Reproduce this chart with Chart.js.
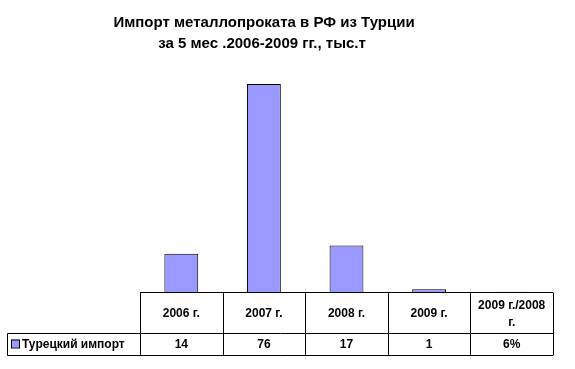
<!DOCTYPE html>
<html>
<head>
<meta charset="utf-8">
<script src="https://cdn.jsdelivr.net/npm/chart.js@4.4.0/dist/chart.umd.min.js"></script>
<style>
  html, body { margin: 0; padding: 0; background: #fff; }
  #wrap { width: 575px; height: 369px; }
</style>
</head>
<body>
<div id="wrap"><canvas id="importChart" width="575" height="369"></canvas></div>
<script>
const titleLines = ['Импорт металлопроката в РФ из Турции', 'за 5 мес .2006-2009 гг., тыс.т'];
const categories = ['2006 г.', '2007 г.', '2008 г.', '2009 г.', ['2009 г./2008', 'г.']];
const seriesName = 'Турецкий импорт';
const importValues = [14, 76, 17, 1, 0.06];
const tableLabels = ['14', '76', '17', '1', '6%'];

const barFill = '#9999FF';
const font = '"Liberation Sans", Arial, sans-serif';

// draws the title and the data table under the bars
const tablePlugin = {
    id: 'dataTable',
    afterDraw(chart) {
        const ctx = chart.ctx;
        const area = chart.chartArea;
        const x = chart.scales.x;
        const n = categories.length;
        const step = (area.right - area.left) / n;
        const top = Math.round(area.bottom) + 0.5;
        const mid = top + 41;
        const bottom = mid + 22;
        const legendLeft = 7.5;

        ctx.save();
        ctx.fillStyle = '#000';
        ctx.textAlign = 'center';
        ctx.textBaseline = 'alphabetic';
        ctx.font = 'bold 15px ' + font;
        ctx.fillText(titleLines[0], 264, 27);
        ctx.fillText(titleLines[1], 262, 48);

        ctx.strokeStyle = '#000';
        ctx.lineWidth = 1;
        ctx.beginPath();
        ctx.moveTo(area.left, top); ctx.lineTo(area.right, top);
        ctx.moveTo(legendLeft, mid); ctx.lineTo(area.right, mid);
        ctx.moveTo(legendLeft, bottom); ctx.lineTo(area.right, bottom);
        ctx.moveTo(legendLeft, mid); ctx.lineTo(legendLeft, bottom);
        for (let i = 0; i <= n; i++) {
            const bx = Math.round(area.left + i * step) + 0.5;
            ctx.moveTo(bx, top); ctx.lineTo(bx, bottom);
        }
        ctx.stroke();

        ctx.font = 'bold 12px ' + font;
        ctx.textBaseline = 'middle';
        categories.forEach((c, i) => {
            const cx = x.getPixelForValue(i);
            if (Array.isArray(c)) {
                ctx.fillText(c[0], cx, top + 13);
                ctx.fillText(c[1], cx, top + 30);
            } else {
                ctx.fillText(c, cx, top + 21);
            }
            ctx.fillText(tableLabels[i], cx, mid + 11);
        });

        ctx.fillStyle = barFill;
        ctx.fillRect(11, mid + 6, 8, 8);
        ctx.strokeRect(11.5, mid + 6.5, 8, 8);
        ctx.fillStyle = '#000';
        ctx.textAlign = 'left';
        ctx.fillText(seriesName, 22, mid + 11);
        ctx.restore();
    }
};

new Chart(document.getElementById('importChart'), {
    type: 'bar',
    data: {
        labels: categories,
        datasets: [{
            label: seriesName,
            data: importValues,
            backgroundColor: barFill,
            borderColor: '#000',
            borderWidth: 1,
            barPercentage: 0.41,
            categoryPercentage: 1
        }]
    },
    options: {
        responsive: false,
        animation: false,
        layout: {
            padding: { left: 140, right: 22, top: 73, bottom: 77 }
        },
        plugins: {
            legend: { display: false },
            title: { display: false },
            tooltip: { enabled: false }
        },
        scales: {
            x: { display: false },
            y: { display: false, min: 0, max: 80 }
        }
    },
    plugins: [tablePlugin]
});
</script>
</body>
</html>
